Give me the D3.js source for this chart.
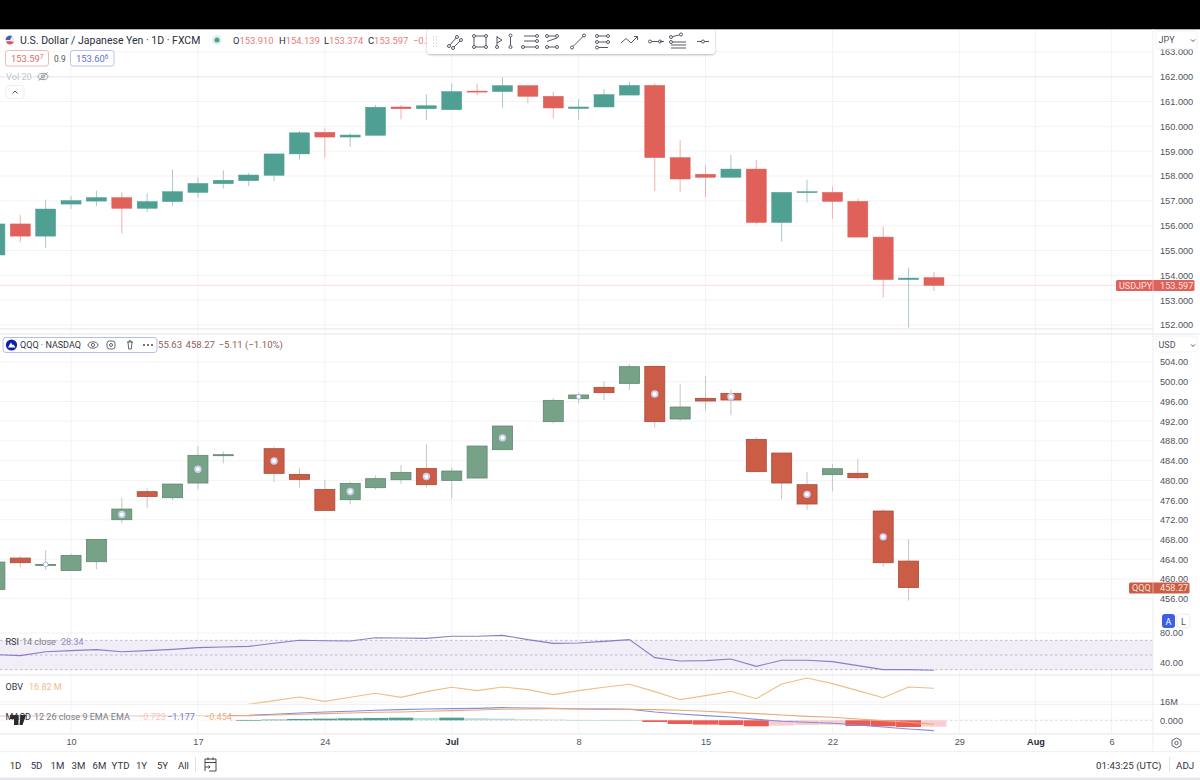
<!DOCTYPE html>
<html>
<head>
<meta charset="utf-8">
<script src="https://cdn.jsdelivr.net/npm/d3@7"></script>
<style>
  html, body { margin: 0; padding: 0; background: #fff; }
  svg { display: block; font-family: Roboto, "Liberation Sans", sans-serif; }
  .ax text { font-size: 9.2px; fill: #50535e; }
  .ax line, .ax path { display: none; }
</style>
</head>
<body>
<svg width="1200" height="780"></svg>
<script>
/* -----------------------------
   Data
----------------------------- */

const days = [
  "Jun 5","Jun 6","Jun 7","Jun 10","Jun 11","Jun 12","Jun 13","Jun 14",
  "Jun 17","Jun 18","Jun 19","Jun 20","Jun 21","Jun 24","Jun 25","Jun 26","Jun 27","Jun 28",
  "Jul 1","Jul 2","Jul 3","Jul 4","Jul 5","Jul 8","Jul 9","Jul 10","Jul 11","Jul 12",
  "Jul 15","Jul 16","Jul 17","Jul 18","Jul 19","Jul 22","Jul 23","Jul 24","Jul 25","Jul 26",
  "Jul 29","Jul 30","Jul 31","Aug 1","Aug 2","Aug 5","Aug 6","Aug 7"
];
const tickDays = ["Jun 10","Jun 17","Jun 24","Jul 1","Jul 8","Jul 15","Jul 22","Jul 29","Aug 1","Aug 6"];
const tickNames = ["10","17","24","Jul","8","15","22","29","Aug","6"];
const boldTicks = ["Jul","Aug"];

const jpyOpen = [154.82,156.07,155.58,156.87,156.99,157.13,156.70,156.97,157.34,157.69,157.81,158.03,158.89,159.76,159.57,159.64,160.78,160.71,160.67,161.42,161.40,161.64,161.21,160.72,160.78,161.26,161.65,158.74,158.07,157.95,158.28,156.13,157.35,157.34,156.98,155.54,153.83,153.91];
const jpyHigh = [156.30,156.43,157.05,157.19,157.41,157.34,157.30,158.26,157.95,158.23,158.12,158.89,159.81,159.92,159.74,160.86,160.86,161.29,161.73,161.72,161.97,161.64,161.40,161.10,161.50,161.80,161.74,159.44,158.42,158.85,158.64,157.34,157.85,157.58,157.09,155.97,154.31,154.14];
const jpyLow = [154.80,155.33,155.11,156.67,156.79,155.69,156.55,156.79,157.13,157.50,157.60,157.80,158.66,158.74,159.18,159.64,160.28,160.26,160.67,161.25,160.75,160.93,160.32,160.26,160.78,161.26,157.40,157.37,157.15,157.95,156.05,155.36,156.94,156.27,155.54,153.10,151.89,153.37];
const jpyClose = [156.07,155.58,156.67,157.01,157.13,156.70,156.97,157.37,157.70,157.83,158.04,158.89,159.74,159.57,159.65,160.77,160.71,160.83,161.40,161.40,161.64,161.21,160.74,160.78,161.28,161.65,158.74,157.88,157.95,158.28,156.13,157.34,157.37,156.98,155.54,153.83,153.89,153.597];

const qqqOpen = [457.89,464.24,462.96,461.74,463.50,472.02,477.70,476.48,479.46,485.07,null,486.42,481.21,478.17,476.08,478.51,480.13,482.43,480.00,480.47,486.22,null,491.90,496.56,498.86,499.67,503.12,492.44,496.63,497.64,488.31,485.54,479.12,481.15,481.42,473.78,463.63];
const qqqHigh = [463.43,464.65,465.87,465.19,468.03,476.48,478.37,479.25,486.96,485.88,null,486.83,482.57,480.06,479.73,481.01,483.11,487.30,482.57,486.96,491.02,null,496.70,497.85,500.08,503.59,503.12,499.61,501.16,498.46,488.79,485.54,481.69,483.31,484.39,474.18,468.03];
const qqqLow = [457.89,462.35,461.81,461.74,462.01,471.28,474.45,476.01,478.17,483.45,null,479.66,478.58,473.91,475.13,478.10,479.32,478.51,476.28,480.47,486.22,null,491.56,495.62,496.29,498.32,490.68,492.10,494.13,493.18,481.76,476.21,473.98,477.77,480.20,462.49,455.63];
const qqqClose = [463.43,463.30,462.96,464.78,468.03,474.18,476.75,479.25,485.07,485.20,null,481.42,480.20,473.91,479.39,480.34,481.62,479.12,481.89,486.96,491.02,null,496.22,497.31,497.78,503.05,491.90,494.87,496.09,496.29,481.76,479.46,475.20,482.36,480.54,463.30,458.27];
const qqqMarked = [2,5,8,11,14,17,20,23,26,29,32,35];
const qqqHollow = [2,23];

const rsiValues = [50.6,49.1,54.5,55.9,57.3,54.5,55.9,57.7,60.0,60.9,61.8,65.9,70.0,69.5,69.1,73.6,73.2,72.7,75.5,75.5,76.8,70.9,65.9,66.4,68.6,70.9,46.4,41.8,42.3,44.5,34.5,42.7,42.7,40.9,35.5,30.0,30.0,29.1];
const obvValues = [null,null,null,null,null,null,null,null,null,15.6,15.86,16.08,16.30,16.04,16.28,16.52,16.28,16.62,16.88,16.68,16.90,16.74,16.44,16.68,16.88,17.06,16.62,16.14,16.38,16.64,16.20,17.08,17.44,17.10,16.68,16.26,16.90,16.82];
const macdValues = [0.50,0.50,0.50,0.51,0.51,0.52,0.52,0.53,0.54,0.55,0.57,0.68,0.83,0.95,1.02,1.14,1.21,1.29,1.33,1.36,1.44,1.40,1.36,1.29,1.27,1.25,0.95,0.72,0.53,0.38,0.11,-0.11,-0.23,-0.34,-0.53,-0.76,-0.98,-1.177];
const signalValues = [0.46,0.46,0.47,0.47,0.48,0.48,0.49,0.50,0.50,0.51,0.53,0.61,0.68,0.76,0.83,0.91,0.95,1.02,1.10,1.17,1.25,1.29,1.33,1.31,1.29,1.25,1.21,1.14,1.02,0.87,0.76,0.61,0.45,0.34,0.15,-0.04,-0.23,-0.454];
const histValues = [null,null,null,null,null,null,null,null,null,null,0.04,0.08,0.15,0.19,0.23,0.27,0.30,0.27,0.30,0.23,0.19,0.11,0.08,0.04,0.02,0,-0.19,-0.42,-0.49,-0.53,-0.68,-0.61,-0.53,-0.49,-0.64,-0.68,-0.76,-0.723];

const jpyTicks = [152,153,154,155,156,157,158,159,160,161,162,163];
const jpyLevels = [162,151.85];
const qqqTicks = [456,460,464,468,472,476,480,484,488,492,496,500,504];
const rsiTicks = [40,80];
const rsiBand = [30,50,70];
const obvTicks = [16];
const macdTicks = [0];
const ranges = ["1D","5D","1M","3M","6M","YTD","1Y","5Y","All"];

/* -----------------------------
   Scales
----------------------------- */

const svg = d3.select("svg");
const plotRight = 1153;

const x = d3.scalePoint().domain(days).range([-5.1, 1137]);
const yJpy = d3.scaleLinear().domain([162, 152]).range([76.7, 325]);
const yQqq = d3.scaleLinear().domain([504, 456]).range([362, 598.7]);
const yRsi = d3.scaleLinear().domain([80, 40]).range([633, 662.3]);
const yObv = d3.scaleLinear().domain([16, 17]).range([702, 685.3]);
const yMacd = d3.scaleLinear().domain([0, -1]).range([720.3, 729.1]);

const clips = { top: [29, 305], qqq: [335, 298], rsi: [632, 43], obv: [676, 28], macd: [705, 28] };
const defs = svg.append("defs");
Object.keys(clips).forEach(k => {
  defs.append("clipPath").attr("id", "clip-" + k)
    .append("rect").attr("x", 0).attr("y", clips[k][0]).attr("width", plotRight).attr("height", clips[k][1]);
});

/* -----------------------------
   Grid
----------------------------- */

const grid = svg.append("g").attr("stroke", "#f3f3f6").attr("stroke-width", 1);

grid.selectAll(".v").data(tickDays).enter().append("line")
  .attr("x1", d => x(d)).attr("x2", d => x(d)).attr("y1", 29).attr("y2", 734);

[[jpyTicks, yJpy], [qqqTicks, yQqq], [rsiTicks, yRsi], [obvTicks, yObv]].forEach(([ticks, y]) => {
  grid.selectAll(null).data(ticks).enter().append("line")
    .attr("x1", 0).attr("x2", plotRight).attr("y1", d => y(d)).attr("y2", d => y(d));
});

svg.append("g").selectAll("line").data(jpyLevels).enter().append("line")
  .attr("x1", 0).attr("x2", plotRight)
  .attr("y1", d => yJpy(d)).attr("y2", d => yJpy(d))
  .attr("stroke", "#eeeef1").attr("stroke-width", 1.4);

/* -----------------------------
   Candles
----------------------------- */

function drawCandles(name, y, o, h, l, c, st) {
  const rows = days.slice(0, o.length)
    .map((d, i) => ({ d, i, o: o[i], h: h[i], l: l[i], c: c[i] }))
    .filter(r => r.o !== null);

  const g = svg.append("g").attr("clip-path", "url(#clip-" + name + ")");

  g.selectAll(".wick").data(rows).enter().append("line")
    .attr("x1", r => x(r.d)).attr("x2", r => x(r.d))
    .attr("y1", r => y(r.h)).attr("y2", r => y(r.l))
    .attr("stroke", r => r.c >= r.o ? st.upWick : st.downWick)
    .attr("stroke-width", 1);

  g.selectAll(".body").data(rows).enter().append("rect")
    .attr("x", r => x(r.d) - 10)
    .attr("width", 20)
    .attr("y", r => y(Math.max(r.o, r.c)))
    .attr("height", r => Math.max(1, Math.abs(y(r.o) - y(r.c))))
    .attr("fill", r => r.c >= r.o ? st.up : st.down)
    .attr("stroke", r => r.c >= r.o ? st.upEdge : st.downEdge)
    .attr("stroke-width", st.edge);

  return rows;
}

// last price lines go under the candles
svg.append("line").attr("x1", 0).attr("x2", plotRight)
  .attr("y1", yJpy(153.597)).attr("y2", yJpy(153.597))
  .attr("stroke", "#fadedb").attr("stroke-width", 1);

drawCandles("top", yJpy, jpyOpen, jpyHigh, jpyLow, jpyClose, {
  up: "#4f9f93", down: "#e0605a", upEdge: "#4f9f93", downEdge: "#e0605a",
  upWick: "#a5ccc6", downWick: "#f1b0ac", edge: 0.5
});

const qqqRows = drawCandles("qqq", yQqq, qqqOpen, qqqHigh, qqqLow, qqqClose, {
  up: "#77a288", down: "#cb5c45", upEdge: "#5f8771", downEdge: "#a94a38",
  upWick: "#c4c6c4", downWick: "#c9c6c4", edge: 0.8
});

// the round markers sit on the middle of the body
const marks = qqqRows.filter(r => qqqMarked.includes(r.i));
const isHollow = r => qqqHollow.includes(r.i);
const markG = svg.append("g");
markG.selectAll(".halo").data(marks).enter().append("circle")
  .attr("cx", r => x(r.d)).attr("cy", r => yQqq((r.o + r.c) / 2))
  .attr("r", r => isHollow(r) ? 2.4 : 3.7)
  .attr("fill", r => isHollow(r) ? "#fff" : "#ccd2ee")
  .attr("stroke", r => isHollow(r) ? "#8f9fd0" : "none")
  .attr("stroke-width", 0.7);
markG.selectAll(".core").data(marks.filter(r => !isHollow(r))).enter().append("circle")
  .attr("cx", r => x(r.d)).attr("cy", r => yQqq((r.o + r.c) / 2))
  .attr("r", 1.9).attr("fill", "#fff");

/* -----------------------------
   RSI, OBV, MACD panes
----------------------------- */

function seriesLine(values, y, color, clip) {
  const line = d3.line()
    .defined(v => v !== null)
    .x((v, i) => x(days[i]))
    .y(v => y(v));
  svg.append("path")
    .attr("clip-path", "url(#clip-" + clip + ")")
    .attr("d", line(values))
    .attr("fill", "none")
    .attr("stroke", color)
    .attr("stroke-width", 1.1);
}

svg.append("rect").attr("x", 0).attr("width", plotRight)
  .attr("y", yRsi(rsiBand[2])).attr("height", yRsi(rsiBand[0]) - yRsi(rsiBand[2]))
  .attr("fill", "#f1eef8");

svg.append("g").selectAll("line").data(rsiBand).enter().append("line")
  .attr("x1", 0).attr("x2", plotRight)
  .attr("y1", d => yRsi(d)).attr("y2", d => yRsi(d))
  .attr("stroke", "#a9a4b8").attr("stroke-width", 0.7)
  .attr("stroke-dasharray", "2.5 2.5");

seriesLine(rsiValues, yRsi, "#8e7cc3", "rsi");
seriesLine(obvValues, yObv, "#efbd86", "obv");

const histRows = histValues
  .map((v, i) => ({ v, i, prev: i > 0 ? histValues[i - 1] : null }))
  .filter(r => r.v !== null);

function histColor(r) {
  if (r.v >= 0) return r.prev === null || r.v > r.prev ? "#4f9f93" : "#b5dcd6";
  return r.v < r.prev ? "#ec5b53" : "#f9cdd1";
}

svg.append("line").attr("x1", 0).attr("x2", plotRight)
  .attr("y1", yMacd(0)).attr("y2", yMacd(0))
  .attr("stroke", "#d8c4c6").attr("stroke-width", 0.7).attr("stroke-dasharray", "2.5 2.5");

svg.append("g").attr("clip-path", "url(#clip-macd)")
  .selectAll("rect").data(histRows).enter().append("rect")
  .attr("x", r => x(days[r.i]) - 12.5)
  .attr("width", 25)
  .attr("y", r => Math.min(yMacd(r.v), yMacd(0)))
  .attr("height", r => Math.max(0.7, Math.abs(yMacd(r.v) - yMacd(0))))
  .attr("fill", histColor);

seriesLine(macdValues, yMacd, "#7f8ee0", "macd");
seriesLine(signalValues, yMacd, "#eba877", "macd");

/* -----------------------------
   Separators and chrome
----------------------------- */

svg.append("rect").attr("width", 1200).attr("height", 29.3).attr("fill", "#000");
svg.append("rect").attr("y", 777.6).attr("width", 1200).attr("height", 2.4).attr("fill", "#e6e6ea");

const seps = [[334, 1.6], [675, 1.6], [704.3, 1], [733.8, 1.4], [751.7, 1]];
svg.append("g").selectAll("line").data(seps).enter().append("line")
  .attr("x1", 0).attr("x2", 1200)
  .attr("y1", d => d[0]).attr("y2", d => d[0])
  .attr("stroke", "#eeeef1").attr("stroke-width", d => d[1]);

svg.append("line").attr("x1", plotRight).attr("x2", plotRight)
  .attr("y1", 29).attr("y2", 752).attr("stroke", "#eeeef1");

/* -----------------------------
   Axes
----------------------------- */

function priceAxis(y, ticks, fmt) {
  svg.append("g").attr("class", "ax")
    .attr("transform", `translate(${plotRight},0)`)
    .call(d3.axisRight(y).tickValues(ticks).tickSize(0).tickPadding(7).tickFormat(fmt));
}

priceAxis(yJpy, jpyTicks, d3.format(".3f"));
priceAxis(yQqq, qqqTicks, d3.format(".2f"));
priceAxis(yRsi, rsiTicks, d3.format(".2f"));
priceAxis(yObv, obvTicks, d => d + "M");
priceAxis(yMacd, macdTicks, d3.format(".3f"));

const timeAxis = svg.append("g").attr("class", "ax")
  .attr("transform", "translate(0,738)")
  .call(d3.axisBottom(x).tickValues(tickDays).tickSize(0).tickPadding(0)
    .tickFormat((d, i) => tickNames[i]));
timeAxis.selectAll("text")
  .attr("font-weight", function() { return boldTicks.includes(this.textContent) ? 700 : 400; })
  .style("fill", function() { return boldTicks.includes(this.textContent) ? "#2a2e39" : "#50535e"; });

/* -----------------------------
   Text helpers
----------------------------- */

function label(text, px, py, size, color, anchor, weight) {
  return svg.append("text")
    .attr("x", px).attr("y", py)
    .attr("font-size", size)
    .attr("fill", color)
    .attr("text-anchor", anchor || "start")
    .attr("font-weight", weight || 400)
    .text(text);
}

function box(px, py, w, h, fill, stroke, r) {
  return svg.append("rect")
    .attr("x", px).attr("y", py).attr("width", w).attr("height", h)
    .attr("rx", r === undefined ? 2.5 : r)
    .attr("fill", fill).attr("stroke", stroke || "none");
}

function priceChip(px, py, main, small, color) {
  const t = label(main, px, py, 9.4, color);
  t.append("tspan").attr("dy", -2.5).attr("font-size", 6.5).text(small);
}

function eye(cx, cy, color) {
  svg.append("ellipse").attr("cx", cx).attr("cy", cy).attr("rx", 5).attr("ry", 3.2)
    .attr("fill", "none").attr("stroke", color).attr("stroke-width", 0.9);
  svg.append("circle").attr("cx", cx).attr("cy", cy).attr("r", 1.6)
    .attr("fill", "none").attr("stroke", color).attr("stroke-width", 0.9);
}

/* -----------------------------
   USDJPY legend
----------------------------- */

svg.append("circle").attr("cx", 10).attr("cy", 40).attr("r", 4.5).attr("fill", "#e8eaf6");
svg.append("path").attr("d", "M5.5 40 A4.5 4.5 0 0 1 12 36 L10 40 Z").attr("fill", "#4a5fb0");
svg.append("path").attr("d", "M5.8 41.5 A4.5 4.5 0 0 0 14 42 L10 41 Z").attr("fill", "#e05a5a");
label("U.S. Dollar / Japanese Yen · 1D · FXCM", 20, 44, 10.5, "#2a2e39");

svg.append("circle").attr("cx", 217).attr("cy", 40).attr("r", 5).attr("fill", "#dff1ec");
svg.append("circle").attr("cx", 217).attr("cy", 40).attr("r", 2.5).attr("fill", "#4f9f93");

[["O", "153.910", 233], ["H", "154.139", 279], ["L", "153.374", 324], ["C", "153.597", 368]].forEach(d => {
  const t = label(d[0], d[2], 44, 9.4, "#2a2e39");
  t.append("tspan").attr("fill", "#e57e78").text(d[1]);
});
label("−0.313", 413, 44, 9.4, "#e57e78");

box(5.5, 50.5, 43, 15.5, "#fff", "#f2b9b5");
priceChip(11, 61.5, "153.59", "7", "#e26d66");
label("0.9", 54, 61.5, 8.4, "#50535e");
box(70.5, 50.5, 43.5, 15.5, "#fff", "#b8c2ee");
priceChip(76, 61.5, "153.60", "6", "#5c72d8");

label("Vol 20", 6, 80, 9.2, "#c3c5cc");
eye(43, 76.5, "#8d9099");
svg.append("line").attr("x1", 38.5).attr("y1", 80.5).attr("x2", 47.5).attr("y2", 72.5)
  .attr("stroke", "#8d9099").attr("stroke-width", 0.9);

box(6, 85.5, 18, 13, "#fff", "#eeeef1");
svg.append("path").attr("d", "M12.5 93.5 L15 91 L17.5 93.5").attr("fill", "none")
  .attr("stroke", "#50535e").attr("stroke-width", 1);

/* -----------------------------
   QQQ legend
----------------------------- */

box(3, 337.5, 154, 15, "#fff", "#b4bdf3", 3);
svg.append("circle").attr("cx", 11.5).attr("cy", 345).attr("r", 5.6).attr("fill", "#1220a8");
svg.append("path").attr("d", "M8 347.5 L11 342.5 L12.5 345 L13.5 344.5 L15.5 347.5 Z").attr("fill", "#fff");
label("QQQ · NASDAQ", 20, 348.4, 9, "#30333d");
eye(93, 345, "#50535e");
svg.append("rect").attr("x", 107).attr("y", 341).attr("width", 8).attr("height", 8).attr("rx", 2.5)
  .attr("fill", "none").attr("stroke", "#50535e").attr("stroke-width", 0.9);
svg.append("circle").attr("cx", 111).attr("cy", 345).attr("r", 1.5)
  .attr("fill", "none").attr("stroke", "#50535e").attr("stroke-width", 0.9);
svg.append("path").attr("d", "M127 342 H133 M128 342 L128.7 349 H131.3 L132 342 M129 342 V340.8 H131 V342")
  .attr("fill", "none").attr("stroke", "#50535e").attr("stroke-width", 0.9);
svg.append("g").selectAll("circle").data([144, 148, 152]).enter().append("circle")
  .attr("cx", d => d).attr("cy", 345).attr("r", 1.1).attr("fill", "#50535e");

label("55.63", 158, 348.4, 9.6, "#8c5f58");
label("458.27", 185.5, 348.4, 9.6, "#8c5f58");
label("−5.11 (−1.10%)", 218.5, 348.4, 9.6, "#8c5f58");

/* -----------------------------
   Indicator legends
----------------------------- */

label("RSI", 5.5, 645, 9, "#30333d");
label("14 close", 22, 645, 9, "#7b7e88");
label("28.34", 61, 645, 9, "#9a88cc");

label("OBV", 5.5, 689.5, 9, "#30333d");
label("16.82 M", 29, 689.5, 9, "#f0bd86");

// the legend fades the lines running behind it
svg.append("rect").attr("x", 0).attr("y", 711).attr("width", 229).attr("height", 11)
  .attr("fill", "#fff").attr("opacity", 0.65);

// cut off logo below the MACD legend
svg.append("path").attr("d", "M10 715 H18.5 V725 H14 V719 H10 Z").attr("fill", "#2a2a2e");
svg.append("path").attr("d", "M20.5 715 H26 L22.5 725 H19.5 Z").attr("fill", "#2a2a2e");

label("MACD", 5.5, 719.5, 9, "#30333d");
label("12 26 close 9 EMA EMA", 34, 719.5, 9, "#7b7e88");
label("−0.723", 138, 719.5, 9, "#f3c5c5");
label("−1.177", 167, 719.5, 9, "#6c7ed8");
label("−0.454", 204, 719.5, 9, "#eba877");

/* -----------------------------
   Axis badges
----------------------------- */

box(1116, 280, 78.5, 11, "#e0605a", "none", 1.5);
svg.append("line").attr("x1", plotRight).attr("x2", plotRight).attr("y1", 280).attr("y2", 291).attr("stroke", "#f1b0ac");
label("USDJPY", 1119, 288.6, 9, "#fbe2e0");
label("153.597", 1160, 288.6, 9.2, "#fbe2e0");

box(1129, 582.5, 60.5, 11, "#cb5c45", "none", 1.5);
svg.append("line").attr("x1", plotRight).attr("x2", plotRight).attr("y1", 582.5).attr("y2", 593.5).attr("stroke", "#e6a89a");
label("QQQ", 1132, 591.4, 9, "#fbe2dc");
label("458.27", 1160, 591.4, 9.2, "#fbe2dc");

box(1156, 31, 41, 18, "#fff", "#f3f3f6");
label("JPY", 1158.5, 43, 9, "#50535e");
svg.append("path").attr("d", "M1191 39.5 L1193 41.5 L1195 39.5").attr("fill", "none").attr("stroke", "#50535e");
box(1156, 336, 41, 16, "#fff", "#f3f3f6");
label("USD", 1158.5, 348, 9, "#50535e");
svg.append("path").attr("d", "M1191 344.5 L1193 346.5 L1195 344.5").attr("fill", "none").attr("stroke", "#50535e");

box(1162, 614, 13, 14, "#3d5fe8", "none", 3);
label("A", 1168.5, 624.5, 9, "#fff", "middle");
box(1177, 614, 13, 14, "#fff", "#eeeef1", 3);
label("L", 1183.5, 624.5, 9, "#50535e", "middle");

// settings gear at the end of the time axis
svg.append("path").attr("d", "M1176.5 738 L1181 740.5 V745.5 L1176.5 748 L1172 745.5 V740.5 Z")
  .attr("fill", "none").attr("stroke", "#50535e").attr("stroke-width", 0.9);
svg.append("circle").attr("cx", 1176.5).attr("cy", 743).attr("r", 1.7)
  .attr("fill", "none").attr("stroke", "#50535e").attr("stroke-width", 0.9);

/* -----------------------------
   Bottom bar
----------------------------- */

const rangeX = d3.scalePoint().domain(ranges).range([15.5, 183.5]);
svg.append("g").selectAll("text").data(ranges).enter().append("text")
  .attr("x", d => rangeX(d)).attr("y", 768.5)
  .attr("text-anchor", "middle")
  .attr("font-size", 9.6).attr("fill", "#30333d")
  .text(d => d);

svg.append("line").attr("x1", 195.5).attr("x2", 195.5).attr("y1", 757).attr("y2", 772).attr("stroke", "#e2e2e6");
svg.append("path").attr("d", "M205 771 V759 H216 V771 H209 M205 762.5 H216 M208 757.5 V760 M213 757.5 V760 M205 767 H210 M208.5 765.5 L210 767 L208.5 768.5")
  .attr("fill", "none").attr("stroke", "#30333d").attr("stroke-width", 0.9);

label("01:43:25 (UTC)", 1096, 768.5, 9.8, "#30333d");
svg.append("line").attr("x1", 1169.5).attr("x2", 1169.5).attr("y1", 757).attr("y2", 772).attr("stroke", "#e2e2e6");
label("ADJ", 1176, 768.5, 9.8, "#30333d");

/* -----------------------------
   Drawing toolbar
----------------------------- */

defs.append("filter").attr("id", "shadow")
  .append("feDropShadow").attr("dx", 0).attr("dy", 1).attr("stdDeviation", 1.2)
  .attr("flood-color", "#000").attr("flood-opacity", 0.28);

svg.append("rect").attr("x", 427).attr("y", 27).attr("width", 288).attr("height", 27)
  .attr("rx", 4).attr("fill", "#fff").attr("filter", "url(#shadow)");
svg.append("rect").attr("x", 427).attr("y", 27).attr("width", 288).attr("height", 2.3).attr("fill", "#000");

const tool = svg.append("g").attr("fill", "none").attr("stroke", "#555862").attr("stroke-width", 1);

function seg(a, b, c, d) { tool.append("line").attr("x1", a).attr("y1", b).attr("x2", c).attr("y2", d); }
function node(a, b) { tool.append("circle").attr("cx", a).attr("cy", b).attr("r", 1.5).attr("fill", "#fff"); }
function chain(a, b, c, d) { seg(a, b, c, d); node(a, b); node(c, d); }

svg.append("g").selectAll("circle")
  .data(d3.cross([433.5, 436.5], [37, 40, 43, 46])).enter().append("circle")
  .attr("cx", d => d[0]).attr("cy", d => d[1]).attr("r", 0.7).attr("fill", "#c9cad0");

chain(449, 46, 457, 37); chain(453, 48, 461, 40);
seg(474, 36, 486, 36); seg(486, 36, 486, 47); seg(486, 47, 474, 47); seg(474, 47, 474, 36);
node(474, 36); node(486, 36); node(474, 47); node(486, 47);
seg(497, 36, 497, 47); tool.append("path").attr("d", "M497 37 L502 40 L497 43"); node(497, 47);
chain(510.5, 35.5, 510.5, 47);
seg(524, 36, 537, 36); seg(524, 41, 537, 41); chain(523, 47, 537, 47); node(537, 36); node(537, 41);
chain(547, 36, 557, 36); chain(547, 47, 557, 47); seg(547, 41.5, 557, 38);
chain(572, 47.5, 584, 35.5);
chain(597, 36, 608, 36); chain(597, 42, 608, 42); seg(597, 47.5, 608, 47.5); node(597, 47.5);
tool.append("path").attr("d", "M621 43 L626 38.5 L631 43 L637 37 M634 36.5 H637.5 V40");
chain(650, 41.5, 660, 41.5); seg(660, 41.5, 664, 41.5);
chain(671, 37, 681, 34.5); seg(671, 42, 686, 42); seg(671, 45, 686, 45); seg(671, 48, 686, 48); node(671, 42);
seg(697, 41.5, 709, 41.5); node(703, 41.5);
</script>
</body>
</html>
